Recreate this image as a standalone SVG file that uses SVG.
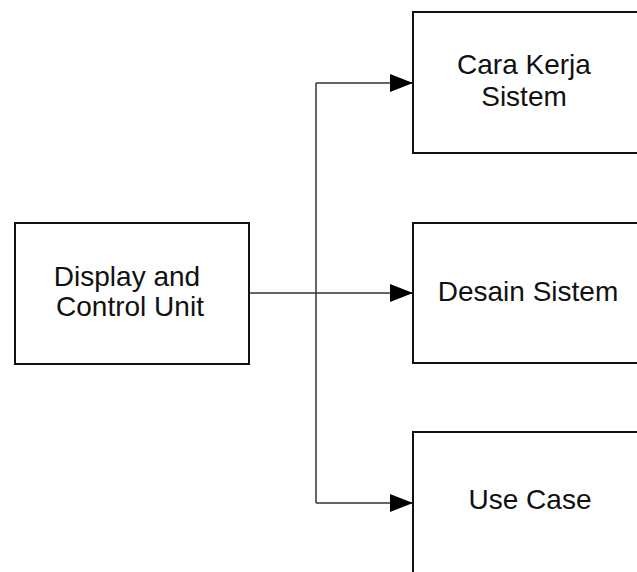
<svg xmlns="http://www.w3.org/2000/svg" width="637" height="572" viewBox="0 0 637 572">
  <style>
    .box { fill: #ffffff; stroke: #111111; stroke-width: 2; }
    .label { font-family: "Liberation Sans", Arial, sans-serif; font-size: 28px; fill: #111111; text-anchor: middle; }
    .wire { fill: none; stroke: #333333; stroke-width: 1.5; }
  </style>
  <defs>
    <marker id="arrow" markerUnits="userSpaceOnUse" markerWidth="24" markerHeight="18" refX="23" refY="9" orient="auto">
      <path d="M0,0 L23,9 L0,18 Z" fill="#000000"/>
    </marker>
  </defs>
  <rect width="637" height="572" fill="#ffffff"/>

  <g id="connectors">
    <line class="wire" x1="249" y1="293" x2="413" y2="293" marker-end="url(#arrow)"/>
    <path class="wire" d="M316,83 L316,503"/>
    <line class="wire" x1="316" y1="83" x2="413" y2="83" marker-end="url(#arrow)"/>
    <line class="wire" x1="316" y1="503" x2="413" y2="503" marker-end="url(#arrow)"/>
  </g>

  <g id="display-control-unit">
    <rect class="box" x="15" y="223" width="234" height="141"/>
    <text class="label" x="127" y="286">Display and</text>
    <text class="label" x="130" y="316">Control Unit</text>
  </g>

  <g id="cara-kerja-sistem">
    <rect class="box" x="413" y="12" width="240" height="141"/>
    <text class="label" x="524" y="74">Cara Kerja</text>
    <text class="label" x="524" y="106">Sistem</text>
  </g>

  <g id="desain-sistem">
    <rect class="box" x="413" y="223" width="240" height="140"/>
    <text class="label" x="528" y="301">Desain Sistem</text>
  </g>

  <g id="use-case">
    <rect class="box" x="413" y="432" width="240" height="150"/>
    <text class="label" x="530" y="509">Use Case</text>
  </g>
</svg>
